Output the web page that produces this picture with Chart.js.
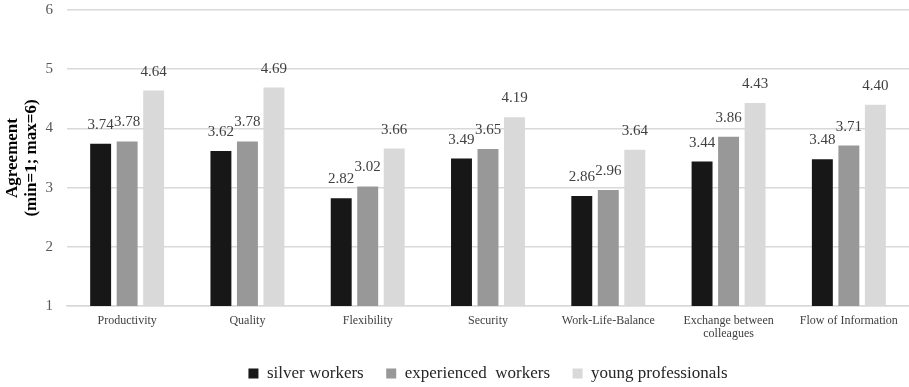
<!DOCTYPE html>
<html>
<head>
<meta charset="utf-8">
<script src="https://cdn.jsdelivr.net/npm/chart.js@4/dist/chart.umd.min.js"></script>
<style>
  html, body { margin: 0; padding: 0; background: #ffffff; }
  #wrap { width: 909px; height: 387px; }
</style>
</head>
<body>
<div id="wrap"><canvas id="c" width="909" height="387"></canvas></div>
<script>
const categories = ["Productivity", "Quality", "Flexibility", "Security", "Work-Life-Balance", ["Exchange between", "colleagues"], "Flow of Information"];
const seriesNames = ["silver workers", "experienced  workers", "young professionals"];
const silverWorkers = [3.74, 3.62, 2.82, 3.49, 2.86, 3.44, 3.48];
const experiencedWorkers = [3.78, 3.78, 3.02, 3.65, 2.96, 3.86, 3.71];
const youngProfessionals = [4.64, 4.69, 3.66, 4.19, 3.64, 4.43, 4.40];
const yTicks = [1, 2, 3, 4, 5, 6];
const yTitle = ["Agreement", "(min=1; max=6)"];

const SERIF = "'Liberation Serif', 'Times New Roman', serif";

const dataLabels = {
  id: 'dataLabels',
  afterDatasetsDraw(chart) {
    const ctx = chart.ctx;
    ctx.save();
    ctx.font = "15px " + SERIF;
    ctx.fillStyle = "#404040";
    ctx.textAlign = "center";
    ctx.textBaseline = "alphabetic";
    chart.data.datasets.forEach((ds, i) => {
      const meta = chart.getDatasetMeta(i);
      meta.data.forEach((el, j) => {
        ctx.fillText(ds.data[j].toFixed(2), el.x, el.y - 15);
      });
    });
    ctx.restore();
  }
};

new Chart(document.getElementById('c'), {
  type: 'bar',
  data: {
    labels: categories,
    datasets: [
      { label: seriesNames[0], data: silverWorkers, backgroundColor: "#171717", borderWidth: 0 },
      { label: seriesNames[1], data: experiencedWorkers, backgroundColor: "#989898", borderWidth: 0 },
      { label: seriesNames[2], data: youngProfessionals, backgroundColor: "#d9d9d9", borderWidth: 0 }
    ]
  },
  options: {
    responsive: false,
    animation: false,
    devicePixelRatio: 1,
    layout: { padding: { top: 10, right: 0, bottom: 0, left: 0 } },
    datasets: { bar: { categoryPercentage: 0.661, barPercentage: 0.79 } },
    plugins: {
      legend: {
        position: 'bottom',
        fullSize: false,
        maxHeight: 44.5,
        labels: {
          font: { family: SERIF, size: 17 },
          color: "#262626",
          boxWidth: 10,
          boxHeight: 10,
          padding: 22.5
        }
      },
      tooltip: { enabled: false }
    },
    scales: {
      x: {
        grid: { display: false, drawTicks: false },
        border: { display: true, color: "#d9d9d9", width: 1.5 },
        ticks: { font: { family: SERIF, size: 12, lineHeight: 1.1 }, color: "#404040", padding: 8, maxRotation: 0, autoSkip: false },
        afterFit(scale) { scale.height = 36.5; }
      },
      y: {
        min: 1,
        max: 6,
        afterBuildTicks(scale) { scale.ticks = yTicks.map(v => ({ value: v })); },
        grid: { color: "#d9d9d9", lineWidth: 1.5, drawTicks: false },
        border: { display: false },
        ticks: { font: { family: SERIF, size: 15 }, color: "#595959", padding: 14 },
        title: {
          display: true,
          text: yTitle,
          font: { family: SERIF, size: 17, weight: 'bold', lineHeight: 1.12 },
          color: "#000000",
          padding: { top: 3, bottom: 0 }
        },
        afterFit(scale) {
          scale.width = 67;
          scale.paddingTop = 9;
          scale.paddingBottom = 9;
        }
      }
    }
  },
  plugins: [dataLabels]
});
</script>
</body>
</html>
